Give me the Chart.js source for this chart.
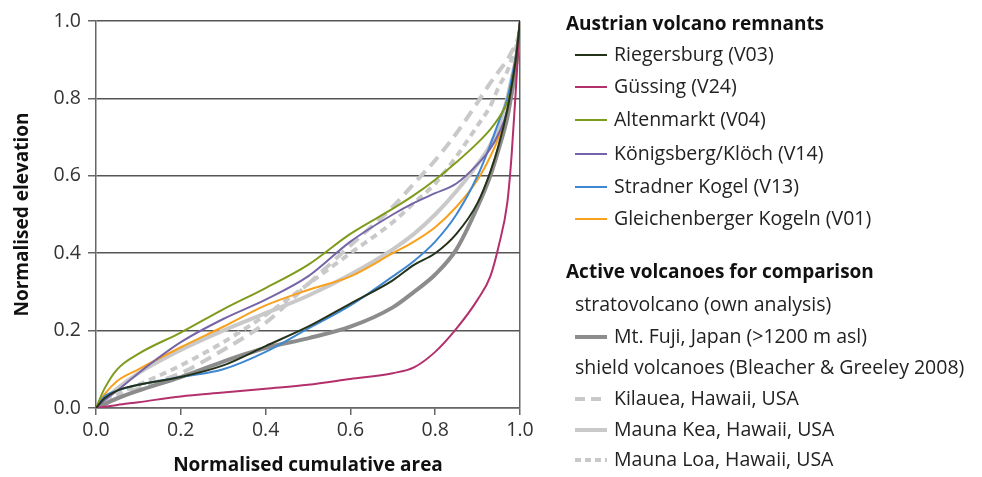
<!DOCTYPE html>
<html>
<head>
<meta charset="utf-8">
<script src="https://cdn.jsdelivr.net/npm/chart.js@4/dist/chart.umd.min.js"></script>
<style>
  body { margin: 0; background: #fff; }
</style>
</head>
<body>
<canvas id="myChart" width="982" height="477"></canvas>
<script>
// normalised cumulative area (shared x samples)
const areaX = [0, 0.02, 0.05, 0.1, 0.2, 0.3, 0.4, 0.5, 0.6, 0.7, 0.75, 0.8, 0.85, 0.9, 0.93, 0.95, 0.97, 0.98, 0.99, 1.0];

// normalised elevation per volcano
const riegersburg   = [0, 0.025, 0.045, 0.06, 0.08, 0.11, 0.16, 0.21, 0.27, 0.33, 0.37, 0.40, 0.45, 0.53, 0.61, 0.68, 0.77, 0.83, 0.90, 1.0];
const guessing      = [0, 0.003, 0.008, 0.015, 0.03, 0.04, 0.05, 0.06, 0.075, 0.09, 0.105, 0.145, 0.205, 0.28, 0.34, 0.42, 0.53, 0.65, 0.82, 1.0];
const altenmarkt    = [0, 0.05, 0.1, 0.14, 0.195, 0.255, 0.31, 0.37, 0.45, 0.515, 0.55, 0.59, 0.635, 0.685, 0.72, 0.75, 0.79, 0.83, 0.9, 1.0];
const koenigsberg   = [0, 0.02, 0.045, 0.09, 0.17, 0.23, 0.28, 0.34, 0.43, 0.5, 0.53, 0.555, 0.58, 0.63, 0.67, 0.71, 0.77, 0.83, 0.9, 1.0];
const stradner      = [0, 0.03, 0.045, 0.06, 0.08, 0.1, 0.145, 0.205, 0.265, 0.34, 0.38, 0.43, 0.5, 0.6, 0.68, 0.74, 0.8, 0.85, 0.91, 1.0];
const gleichenberg  = [0, 0.035, 0.07, 0.1, 0.157, 0.21, 0.265, 0.305, 0.34, 0.4, 0.43, 0.467, 0.52, 0.59, 0.65, 0.7, 0.77, 0.84, 0.91, 1.0];
const mtFuji        = [0, 0.01, 0.025, 0.045, 0.08, 0.12, 0.155, 0.18, 0.21, 0.26, 0.3, 0.345, 0.41, 0.52, 0.6, 0.67, 0.75, 0.81, 0.88, 0.97];
const kilauea       = [0, 0.01, 0.025, 0.05, 0.09, 0.15, 0.22, 0.32, 0.42, 0.52, 0.58, 0.64, 0.71, 0.79, 0.84, 0.87, 0.9, 0.92, 0.94, 0.97];
const maunaKea      = [0, 0.02, 0.05, 0.09, 0.15, 0.2, 0.245, 0.29, 0.345, 0.41, 0.45, 0.5, 0.56, 0.63, 0.68, 0.73, 0.8, 0.85, 0.9, 0.97];
const maunaLoa      = [0, 0.015, 0.035, 0.06, 0.11, 0.17, 0.24, 0.32, 0.4, 0.48, 0.53, 0.58, 0.65, 0.73, 0.78, 0.83, 0.87, 0.9, 0.93, 0.97];

const tickValues = [0, 0.2, 0.4, 0.6, 0.8, 1.0];

const austrianNames = ['Riegersburg (V03)', 'Güssing (V24)', 'Altenmarkt (V04)', 'Königsberg/Klöch (V14)', 'Stradner Kogel (V13)', 'Gleichenberger Kogeln (V01)'];
const austrianColors = ['#25321a', '#b3306c', '#7f9b1c', '#7565a8', '#3f87d1', '#f9a01c'];
const austrianData = [riegersburg, guessing, altenmarkt, koenigsberg, stradner, gleichenberg];

const activeNames = ['Mt. Fuji, Japan (>1200 m asl)', 'Kilauea, Hawaii, USA', 'Mauna Kea, Hawaii, USA', 'Mauna Loa, Hawaii, USA'];
const activeColors = ['#8c8c8c', '#c9c9c9', '#c9c9c9', '#c9c9c9'];
const activeDash = [[], [12, 7], [], [7, 5]];
const legendDash = [[], [10, 6], [], [6, 4]];
const activeData = [mtFuji, kilauea, maunaKea, maunaLoa];

const FONT = "'Open Sans', sans-serif";

function pts(ys) {
  return areaX.map((x, i) => ({ x: x, y: ys[i] }));
}

const datasets = [];
austrianNames.forEach((n, i) => {
  datasets.push({
    label: n, data: pts(austrianData[i]),
    borderColor: austrianColors[i], borderWidth: 2, order: 1
  });
});
activeNames.forEach((n, i) => {
  datasets.push({
    label: n, data: pts(activeData[i]),
    borderColor: activeColors[i], borderWidth: 4, borderDash: activeDash[i], order: 2
  });
});

// legend on the right, drawn on the canvas
const sideLegend = {
  id: 'sideLegend',
  afterDraw(chart) {
    const c = chart.ctx;
    c.save();
    c.textBaseline = 'middle';
    const lineX0 = 575, lineX1 = 607, textX = 614;

    function head(txt, y) {
      c.font = 'bold 19px ' + FONT;
      c.fillStyle = '#111';
      c.fillText(txt, 566, y);
    }
    function sub(txt, y) {
      c.font = '19.5px ' + FONT;
      c.fillStyle = '#222';
      c.fillText(txt, 575, y);
    }
    function row(ds, y, dash) {
      c.strokeStyle = ds.borderColor;
      c.lineWidth = ds.borderWidth;
      c.setLineDash(dash || []);
      c.beginPath();
      c.moveTo(lineX0, y);
      c.lineTo(lineX1, y);
      c.stroke();
      c.setLineDash([]);
      c.font = '19.5px ' + FONT;
      c.fillStyle = '#222';
      c.fillText(ds.label, textX, y);
    }

    const ds = chart.data.datasets;
    head('Austrian volcano remnants', 25);
    const ys1 = [55, 87, 120, 154, 187, 219];
    for (let i = 0; i < 6; i++) row(ds[i], ys1[i]);

    head('Active volcanoes for comparison', 273);
    sub('stratovolcano (own analysis)', 305);
    row(ds[6], 337, legendDash[0]);
    sub('shield volcanoes (Bleacher & Greeley 2008)', 368);
    row(ds[7], 399, legendDash[1]);
    row(ds[8], 430, legendDash[2]);
    row(ds[9], 460, legendDash[3]);
    c.restore();
  }
};

const ctx = document.getElementById('myChart').getContext('2d');

const chart = new Chart(ctx, {
  type: 'line',
  data: { datasets: datasets },
  options: {
    responsive: false,
    animation: false,
    layout: { padding: { top: 21, right: 462, left: 0, bottom: 0 } },
    elements: {
      point: { radius: 0 },
      line: { cubicInterpolationMode: 'monotone', fill: false }
    },
    plugins: {
      legend: { display: false },
      tooltip: { enabled: false }
    },
    scales: {
      x: {
        type: 'linear',
        min: 0, max: 1,
        afterBuildTicks: (s) => { s.ticks = tickValues.map(v => ({ value: v })); },
        afterFit: (s) => { s.height = 69; },
        ticks: {
          callback: (v) => v.toFixed(1),
          font: { family: FONT, size: 19.5 },
          color: '#333',
          padding: 4,
          maxRotation: 0
        },
        grid: {
          color: (c) => (c.tick && c.tick.value === 1 ? '#666' : 'rgba(0,0,0,0)'),
          tickColor: '#666',
          tickLength: 7,
          lineWidth: 1.5
        },
        border: { display: true, color: '#666', width: 1.5 },
        title: {
          display: true,
          text: 'Normalised cumulative area',
          font: { family: FONT, size: 19, weight: 'bold' },
          color: '#111',
          padding: { top: 0, bottom: 0 }
        }
      },
      y: {
        type: 'linear',
        min: 0, max: 1,
        afterBuildTicks: (s) => { s.ticks = tickValues.map(v => ({ value: v })); },
        afterFit: (s) => { s.width = 96; },
        ticks: {
          callback: (v) => v.toFixed(1),
          font: { family: FONT, size: 19.5 },
          color: '#333',
          padding: 7
        },
        grid: {
          color: '#555',
          tickColor: '#666',
          tickLength: 8,
          lineWidth: 1.5
        },
        border: { display: true, color: '#666', width: 1.5 },
        title: {
          display: true,
          text: 'Normalised elevation',
          font: { family: FONT, size: 19, weight: 'bold' },
          color: '#111',
          padding: { top: 11, bottom: 0 }
        }
      }
    }
  },
  plugins: [sideLegend]
});
</script>
</body>
</html>
